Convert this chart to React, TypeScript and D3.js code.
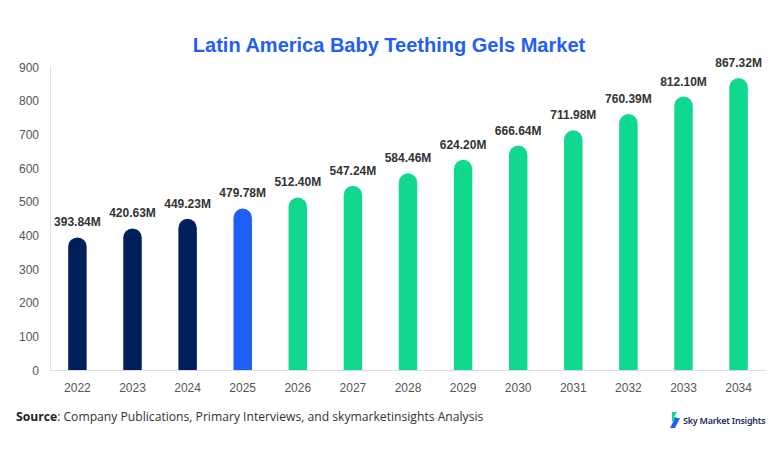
import React from "react";
import * as d3 from "d3";

const years = ["2022","2023","2024","2025","2026","2027","2028","2029","2030","2031","2032","2033","2034"];
const values = [393.84,420.63,449.23,479.78,512.40,547.24,584.46,624.20,666.64,711.98,760.39,812.10,867.32];
const yTicks = [0,100,200,300,400,500,600,700,800,900];
const colorFor = (y: string) => (+y < 2025 ? "#001f5b" : +y === 2025 ? "#1f5ff6" : "#10d98f");

export default function App() {
  const W = 782, H = 454;
  const left = 50, right = 766, top = 67, bottom = 370;
  const x = d3.scaleBand().domain(years).range([left, right]).paddingInner(0.665).paddingOuter(0.33);
  const y = d3.scaleLinear().domain([0, 900]).range([bottom, top]);
  const bw = x.bandwidth();
  const r = bw / 2;
  const barPath = (x0: number, y0: number) => {
    const h = bottom - y0;
    const rr = Math.min(r, h);
    return `M${x0},${bottom}V${y0 + rr}A${rr},${rr} 0 0 1 ${x0 + bw},${y0 + rr}V${bottom}Z`;
  };
  return (
    <svg width={W} height={H} style={{ position: "absolute", left: 0, top: 0, background: "#fff" }}>
      <rect width={W} height={H} fill="#fff" />
      <text x={389} y={52} textAnchor="middle" fontFamily="Liberation Sans, Arial, sans-serif" fontWeight="bold" fontSize={20} fill="#1f5ff6">Latin America Baby Teething Gels Market</text>
      <line x1={left + 0.5} x2={left + 0.5} y1={top - 1} y2={bottom} stroke="#e2e2e2" />
      <line x1={left} x2={right} y1={bottom + 0.5} y2={bottom + 0.5} stroke="#dcdcdc" />
      {yTicks.map(t => (
        <text key={t} x={39} y={y(t) + 4.5} textAnchor="end" fontFamily="Liberation Sans, Arial, sans-serif" fontSize={12} fill="#555">{t}</text>
      ))}
      {years.map((yr, i) => {
        const x0 = x(yr)!;
        const y0 = y(values[i]);
        return (
          <g key={yr}>
            <path d={barPath(x0, y0)} fill={colorFor(yr)} />
            <text x={x0 + bw / 2} y={y0 - 11} textAnchor="middle" fontFamily="Liberation Sans, Arial, sans-serif" fontWeight="bold" fontSize={12} fill="#333">{values[i].toFixed(2)}M</text>
            <text x={x0 + bw / 2} y={392} textAnchor="middle" fontFamily="Liberation Sans, Arial, sans-serif" fontSize={12} fill="#555">{yr}</text>
          </g>
        );
      })}
      <text x={16} y={421} fontFamily="Open Sans, Noto Sans, sans-serif" fontSize={12.15} fill="#333">
        <tspan fontWeight="bold" fill="#222">Source</tspan>: Company Publications, Primary Interviews, and skymarketinsights Analysis
      </text>
      <g transform="translate(669,412)">
        <path d="M3,0 L8,0 L5,5 L8,5 L3,10 Z" fill="#10d98f" />
        <path d="M6,6 L11,6 L6,16 L1,16 Z" fill="#1f5ff6" />
      </g>
      <text x={683} y={424} fontFamily="Noto Sans, sans-serif" fontWeight="600" fontSize={9} fill="#1d2b5e" letterSpacing={-0.25}>Sky Market Insights</text>
    </svg>
  );
}
